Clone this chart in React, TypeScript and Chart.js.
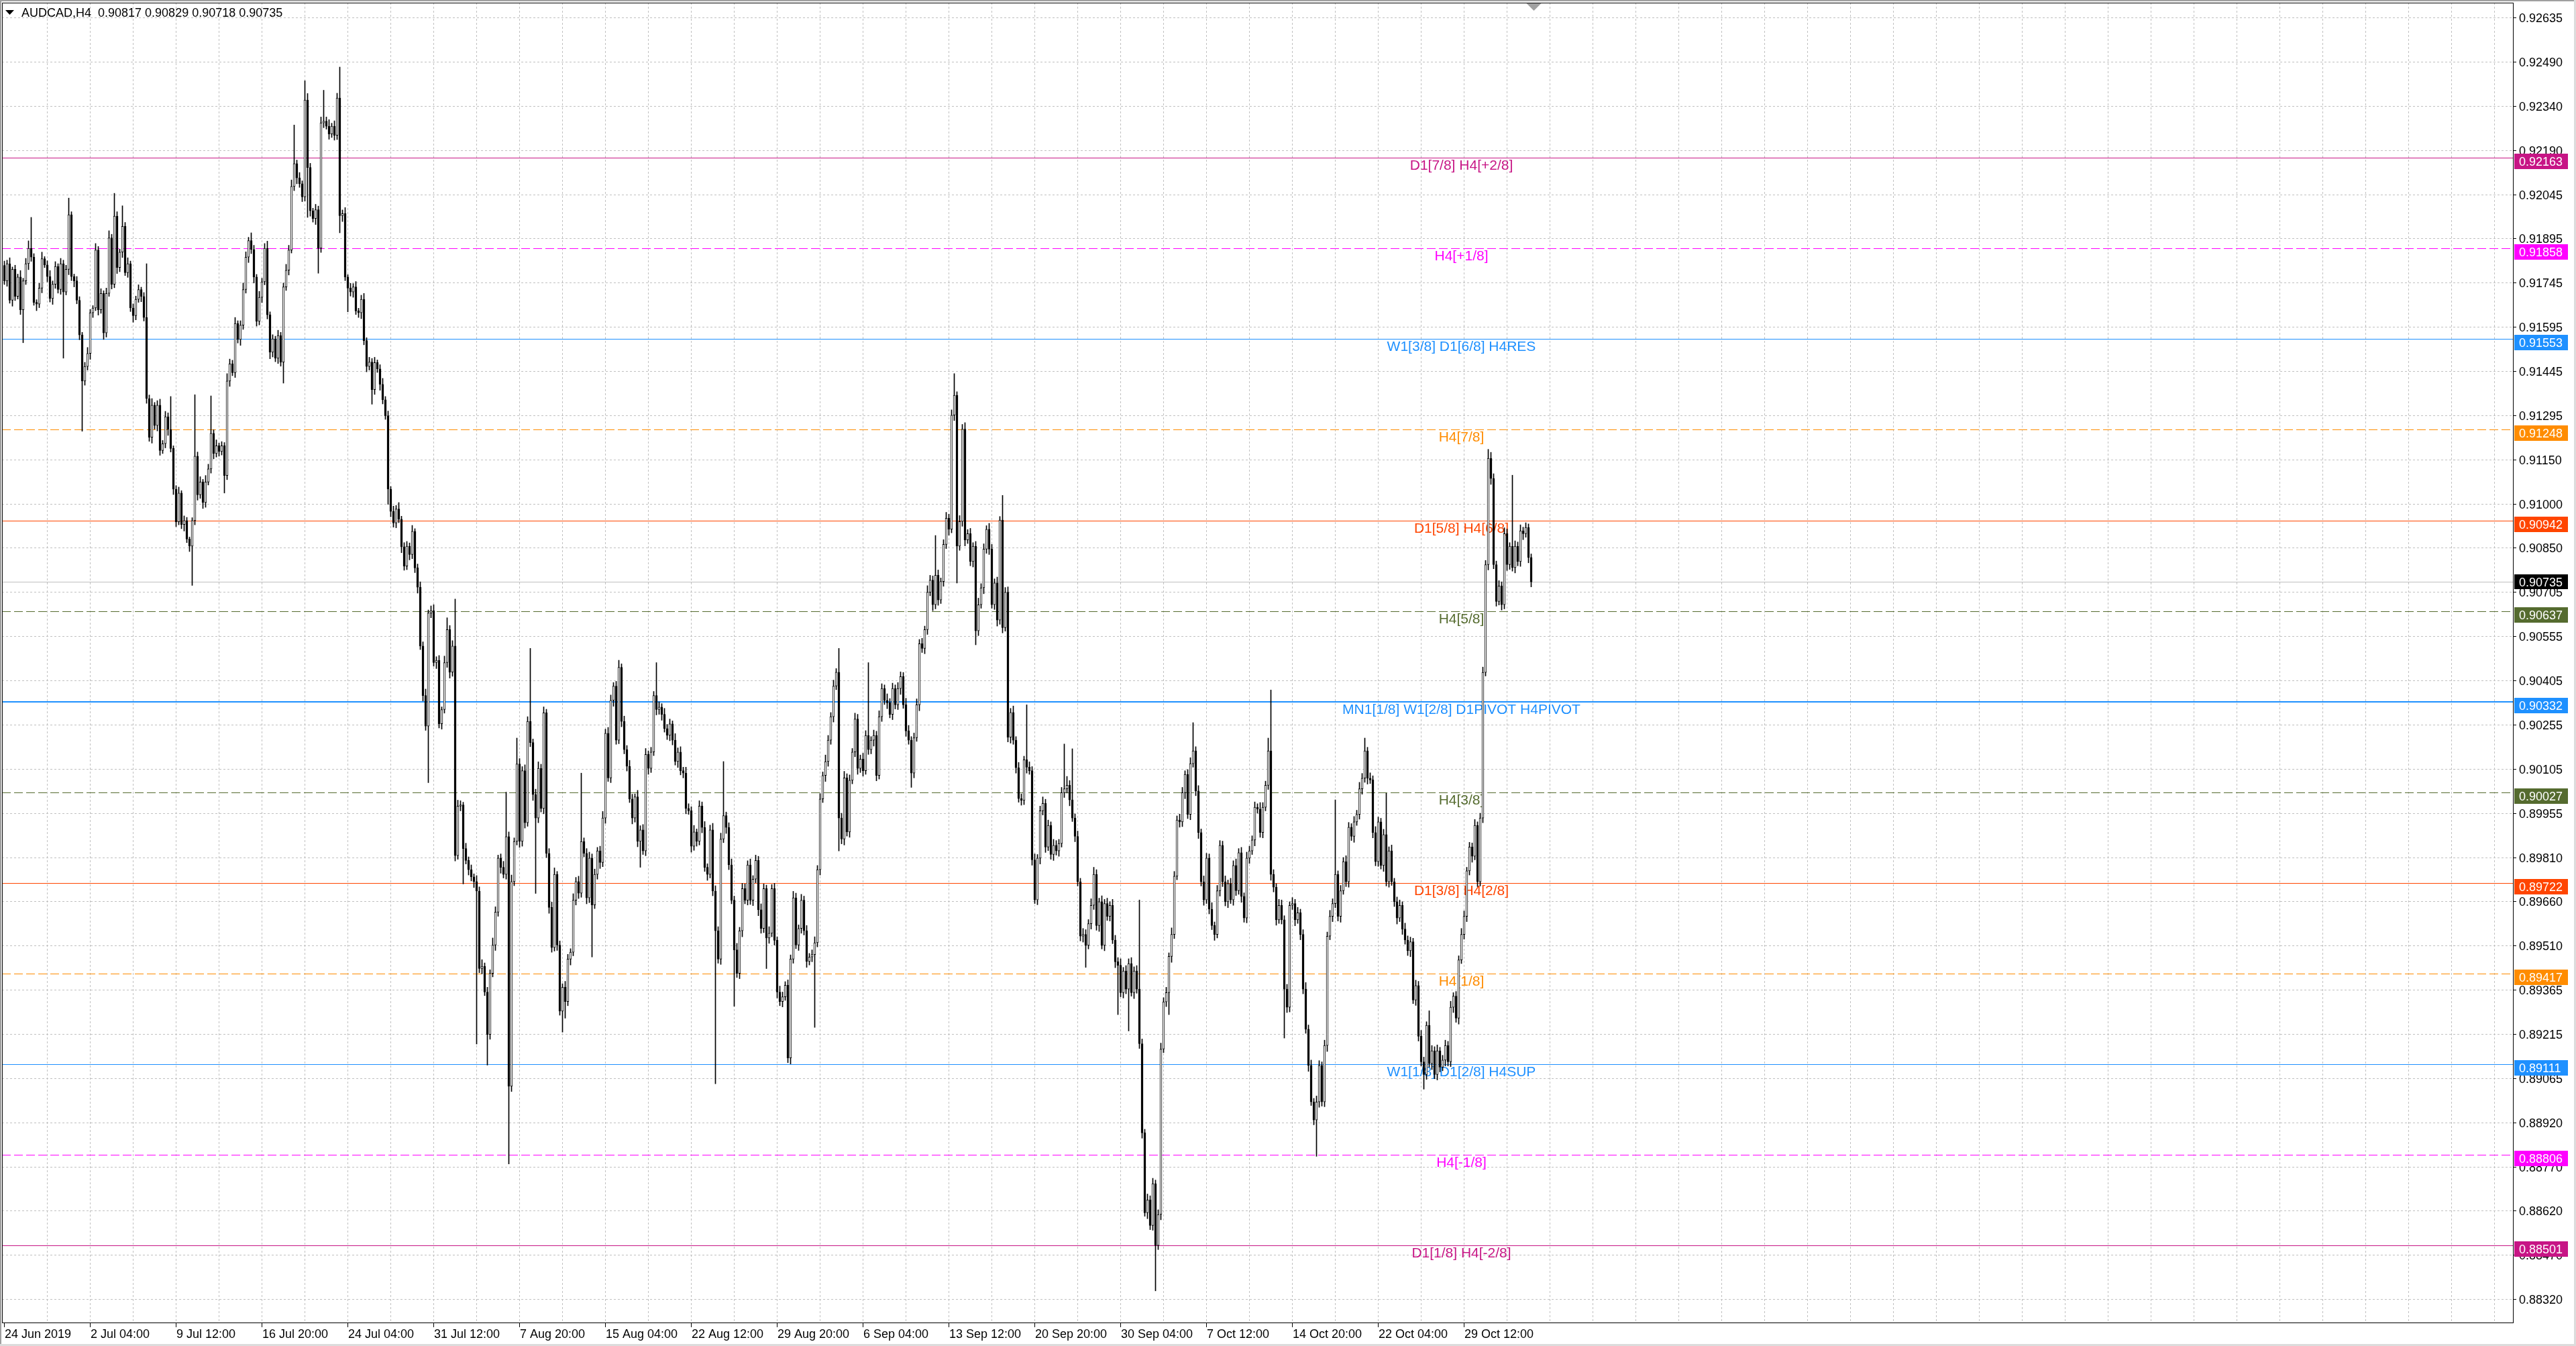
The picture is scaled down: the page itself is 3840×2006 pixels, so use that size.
import { useEffect, useRef } from "react"
import { Chart, registerables } from "chart.js"

Chart.register(...registerables)

// AUDCAD H4. Prices are kept in points (0.00001) above BASE
const SYMBOL = "AUDCAD,H4"
const BASE = 0.88
const POINT = 0.00001
const firstOpen = 3800

// close of every H4 bar, oldest first
const closes = [
  3748, 3806, 3683, 3787, 3696, 3761, 3651, 3748, 3806, 3858,
  3828, 3676, 3670, 3724, 3823, 3802, 3763, 3689, 3737, 3797,
  3719, 3806, 3711, 3787, 3971, 3763, 3748, 3683, 3566, 3411,
  3460, 3504, 3641, 3657, 3852, 3651, 3706, 3573, 3706, 3893,
  3737, 3966, 3793, 3845, 3932, 3776, 3806, 3657, 3631, 3686,
  3719, 3696, 3625, 3352, 3222, 3330, 3261, 3330, 3177, 3200,
  3291, 3248, 3184, 3047, 2937, 3034, 2928, 2941, 2879, 2855,
  2941, 3158, 3028, 3071, 3002, 3071, 3115, 3235, 3167, 3193,
  3174, 3193, 3093, 3411, 3469, 3439, 3605, 3551, 3599, 3719,
  3828, 3884, 3854, 3761, 3612, 3693, 3745, 3858, 3634, 3508,
  3553, 3488, 3564, 3475, 3728, 3784, 3852, 4066, 4143, 4095,
  4075, 4031, 4357, 4130, 3984, 3958, 3988, 3858, 4280, 4286,
  4269, 4243, 4269, 4238, 4364, 3968, 3975, 3761, 3724, 3711,
  3728, 3647, 3641, 3686, 3547, 3460, 3475, 3382, 3473, 3452,
  3400, 3348, 3294, 3047, 2972, 2933, 2980, 2946, 2853, 2788,
  2855, 2827, 2905, 2782, 2717, 2519, 2352, 2249, 2630, 2638,
  2463, 2471, 2257, 2305, 2463, 2574, 2431, 2519, 1813, 1980,
  1984, 1837, 1797, 1766, 1742, 1726, 1694, 1433, 1441, 1354,
  1211, 1417, 1512, 1623, 1805, 1774, 1750, 1877, 1037, 1726,
  1861, 2122, 1861, 2099, 1924, 2265, 2194, 2019, 1940, 2107,
  1972, 2294, 1821, 1639, 1504, 1750, 1512, 1290, 1370, 1322,
  1465, 1488, 1663, 1726, 1687, 1861, 1821, 1671, 1805, 1647,
  1750, 1829, 1790, 1940, 2225, 2075, 2336, 2384, 2202, 2447,
  2265, 2170, 2114, 2004, 1940, 2011, 1861, 1900, 1829, 2154,
  2107, 2162, 2352, 2305, 2313, 2289, 2241, 2218, 2257, 2202,
  2130, 2162, 2099, 2091, 1972, 1964, 1845, 1893, 1861, 1980,
  1908, 1774, 1750, 1900, 1694, 1560, 1465, 1869, 1948, 1908,
  1782, 1663, 1496, 1417, 1560, 1702, 1663, 1782, 1663, 1734,
  1797, 1631, 1568, 1702, 1536, 1552, 1702, 1528, 1354, 1322,
  1338, 1377, 1132, 1465, 1671, 1512, 1568, 1663, 1560, 1457,
  1472, 1480, 1520, 1766, 2004, 2083, 2130, 2202, 2281, 2384,
  2431, 1940, 1869, 2075, 1893, 2067, 2162, 2273, 2107, 2138,
  2099, 2218, 2170, 2202, 2218, 2083, 2281, 2376, 2336, 2328,
  2289, 2376, 2321, 2376, 2416, 2321, 2233, 2202, 2091, 2210,
  2321, 2527, 2511, 2574, 2700, 2741, 2658, 2757, 2674, 2736,
  2861, 2949, 2912, 3296, 3363, 2855, 2938, 3249, 2876, 2897,
  2803, 2855, 2570, 2658, 2715, 2845, 2912, 2845, 2658, 2731,
  2606, 2943, 2581, 2700, 2212, 2295, 2202, 2109, 2005, 1999,
  2136, 2111, 2099, 1799, 1664, 1805, 1964, 1989, 1842, 1915,
  1817, 1848, 1829, 1854, 2025, 2038, 2050, 2001, 1940, 1878,
  1725, 1542, 1548, 1511, 1584, 1646, 1750, 1578, 1658, 1511,
  1652, 1609, 1646, 1529, 1456, 1444, 1352, 1425, 1364, 1450,
  1352, 1425, 1364, 1180, 880, 611, 654, 568, 709, 501,
  605, 1162, 1321, 1352, 1474, 1548, 1744, 1933, 1927, 2025,
  2087, 1952, 2123, 2166, 2031, 1891, 1725, 1664, 1805, 1633,
  1578, 1548, 1695, 1848, 1725, 1658, 1719, 1664, 1780, 1695,
  1823, 1676, 1603, 1805, 1829, 1866, 1976, 1970, 1891, 1976,
  2050, 2166, 1750, 1707, 1597, 1646, 1597, 1364, 1303, 1646,
  1652, 1597, 1621, 1548, 1364, 1229, 1107, 984, 923, 984,
  1107, 984, 1174, 1542, 1609, 1652, 1750, 1609, 1695, 1793,
  1725, 1909, 1878, 1927, 1952, 2038, 2074, 2166, 2074, 2068,
  1891, 1793, 1927, 1780, 1884, 1725, 1829, 1725, 1658, 1603,
  1646, 1566, 1529, 1493, 1523, 1327, 1376, 1205, 1119, 1076,
  1242, 1113, 1156, 1076, 1156, 1101, 1125, 1174, 1119, 1303,
  1340, 1266, 1462, 1548, 1609, 1762, 1842, 1811, 1915, 1725,
  1940, 2430, 2793, 3151, 3083, 2793, 2669, 2721, 2658, 2897,
  2793, 2855, 2783, 2855, 2803, 2907, 2897, 2918, 2817, 2735,
]

// upper shadow of each bar above its body, in points
const wickUp = [
  15, 12, 20, 8, 14, 10, 22, 9, 18, 25,
  104, 12, 9, 16, 22, 7, 14, 20, 11, 16,
  9, 18, 12, 14, 56, 10, 8, 15, 12, 9,
  14, 20, 11, 8, 22, 12, 16, 9, 18, 24,
  12, 77, 15, 10, 69, 13, 20, 9, 14, 11,
  16, 8, 13, 181, 12, 22, 9, 15, 20, 11,
  18, 13, 111, 9, 12, 20, 8, 16, 11, 7,
  10, 207, 14, 18, 9, 22, 16, 126, 12, 20,
  9, 14, 11, 25, 16, 12, 20, 9, 15, 22,
  18, 11, 26, 14, 9, 20, 12, 16, 24, 10,
  14, 9, 18, 11, 13, 20, 16, 22, 130, 12,
  18, 10, 65, 22, 14, 9, 18, 12, 20, 104,
  14, 22, 10, 18, 16, 104, 12, 20, 8, 16,
  11, 18, 9, 14, 20, 10, 16, 12, 18, 9,
  14, 20, 11, 16, 9, 18, 12, 22, 10, 14,
  16, 11, 20, 9, 13, 18, 14, 22, 10, 16,
  20, 12, 16, 9, 22, 40, 14, 18, 158, 20,
  14, 9, 18, 12, 16, 10, 20, 14, 22, 11,
  16, 12, 24, 18, 10, 14, 20, 150, 16, 22,
  12, 87, 18, 14, 20, 16, 246, 12, 18, 22,
  14, 20, 12, 16, 18, 22, 10, 14, 12, 20,
  16, 12, 22, 14, 18, 230, 12, 16, 20, 14,
  18, 12, 16, 22, 14, 20, 18, 12, 16, 24,
  12, 18, 14, 20, 16, 10, 22, 14, 18, 20,
  12, 16, 14, 111, 18, 12, 20, 14, 16, 10,
  22, 14, 18, 12, 20, 16, 14, 22, 10, 18,
  14, 20, 12, 16, 22, 18, 14, 20, 182, 12,
  16, 20, 14, 22, 12, 18, 16, 14, 20, 12,
  18, 14, 20, 16, 12, 22, 14, 18, 12, 20,
  16, 12, 18, 14, 22, 16, 12, 20, 14, 18,
  12, 16, 20, 14, 18, 12, 22, 16, 14, 20,
  12, 80, 16, 22, 14, 18, 12, 20, 16, 14,
  20, 16, 245, 12, 18, 14, 20, 16, 12, 22,
  14, 18, 12, 20, 16, 14, 22, 18, 12, 16,
  20, 14, 18, 12, 22, 16, 14, 134, 18, 12,
  16, 20, 14, 18, 73, 12, 20, 16, 22, 14,
  18, 12, 16, 22, 14, 18, 12, 20, 16, 14,
  20, 12, 83, 16, 18, 14, 22, 12, 18, 16,
  12, 185, 18, 14, 20, 12, 16, 22, 14, 18,
  12, 20, 16, 14, 18, 151, 30, 16, 172, 14,
  18, 12, 20, 16, 14, 22, 24, 16, 12, 20,
  14, 18, 12, 20, 16, 14, 22, 12, 18, 16,
  20, 14, 18, 300, 16, 12, 20, 14, 18, 12,
  16, 20, 14, 18, 12, 22, 16, 14, 20, 18,
  12, 16, 20, 95, 14, 18, 12, 20, 16, 14,
  22, 12, 18, 16, 14, 20, 12, 18, 16, 22,
  14, 18, 12, 20, 16, 14, 18, 12, 22, 16,
  14, 43, 205, 16, 12, 20, 18, 14, 16, 12,
  20, 14, 18, 12, 16, 22, 14, 18, 12, 20,
  16, 12, 18, 14, 20, 16, 251, 12, 18, 14,
  20, 16, 12, 18, 14, 22, 16, 43, 12, 18,
  14, 20, 16, 12, 18, 139, 14, 20, 12, 16,
  18, 12, 20, 14, 16, 12, 18, 14, 20, 16,
  12, 49, 18, 14, 20, 12, 16, 18, 14, 20,
  12, 16, 14, 20, 18, 12, 16, 14, 20, 12,
  16, 18, 14, 30, 20, 16, 12, 18, 14, 20,
  16, 12, 239, 18, 14, 20, 12, 16, 12, 12,
]

// lower shadow of each bar below its body, in points
const wickDown = [
  12, 18, 10, 20, 14, 9, 16, 111, 12, 20,
  14, 10, 22, 12, 16, 9, 18, 12, 20, 14,
  12, 16, 223, 10, 18, 14, 20, 12, 16, 169,
  14, 12, 20, 16, 9, 18, 12, 22, 14, 10,
  16, 12, 20, 14, 18, 10, 16, 12, 22, 14,
  10, 18, 12, 16, 14, 20, 12, 18, 16, 10,
  14, 20, 12, 18, 16, 10, 14, 22, 12, 18,
  132, 14, 18, 12, 20, 16, 10, 14, 18, 12,
  16, 12, 59, 14, 18, 10, 16, 12, 20, 14,
  12, 18, 14, 20, 16, 12, 18, 10, 14, 22,
  16, 12, 18, 14, 71, 12, 16, 10, 14, 20,
  12, 16, 14, 168, 18, 12, 20, 84, 14, 16,
  10, 18, 12, 16, 14, 58, 20, 12, 80, 14,
  18, 12, 16, 20, 14, 18, 12, 49, 16, 12,
  20, 14, 12, 51, 18, 14, 16, 12, 20, 14,
  12, 18, 14, 16, 20, 12, 18, 14, 190, 16,
  12, 20, 14, 18, 12, 16, 20, 14, 18, 12,
  16, 119, 12, 18, 14, 20, 515, 14, 18, 12,
  103, 16, 12, 18, 14, 20, 12, 16, 262, 18,
  14, 12, 20, 16, 18, 12, 14, 20, 254, 16,
  12, 18, 14, 20, 16, 12, 18, 14, 71, 56,
  14, 20, 12, 16, 18, 14, 12, 20, 16, 175,
  12, 16, 20, 14, 18, 12, 16, 20, 14, 12,
  18, 14, 16, 12, 20, 14, 18, 87, 12, 16,
  20, 14, 12, 18, 16, 20, 12, 14, 18, 16,
  12, 20, 14, 16, 18, 12, 20, 14, 16, 12,
  18, 14, 20, 12, 16, 515, 14, 18, 12, 20,
  16, 12, 190, 14, 18, 20, 12, 16, 14, 18,
  12, 20, 16, 14, 103, 18, 12, 16, 20, 14,
  18, 12, 16, 20, 14, 12, 18, 16, 14, 20,
  12, 16, 245, 14, 18, 12, 20, 16, 14, 18,
  12, 111, 16, 20, 14, 18, 12, 16, 20, 14,
  18, 12, 16, 14, 20, 18, 12, 16, 14, 20,
  12, 18, 14, 16, 20, 12, 18, 14, 48, 16,
  12, 20, 14, 18, 16, 12, 20, 14, 18, 12,
  16, 14, 20, 12, 18, 124, 14, 16, 20, 12,
  14, 18, 47, 16, 12, 20, 14, 18, 12, 16,
  20, 14, 18, 12, 16, 20, 14, 18, 12, 16,
  14, 20, 12, 18, 12, 16, 20, 14, 18, 12,
  16, 20, 14, 18, 12, 16, 14, 20, 12, 18,
  14, 16, 20, 74, 12, 18, 14, 16, 20, 12,
  18, 14, 16, 12, 20, 166, 14, 18, 16, 141,
  12, 20, 14, 16, 18, 12, 20, 14, 16, 153,
  14, 18, 12, 16, 74, 20, 14, 12, 18, 16,
  20, 14, 18, 12, 16, 20, 14, 18, 12, 16,
  14, 20, 12, 18, 16, 14, 20, 12, 18, 16,
  12, 20, 14, 16, 18, 12, 20, 14, 16, 18,
  12, 14, 20, 16, 18, 12, 14, 165, 18, 16,
  14, 20, 12, 18, 16, 14, 20, 12, 16, 122,
  18, 14, 16, 20, 12, 18, 14, 16, 20, 12,
  16, 18, 14, 20, 12, 16, 18, 14, 20, 12,
  18, 14, 16, 12, 20, 14, 18, 12, 16, 20,
  12, 18, 14, 16, 20, 12, 18, 16, 14, 49,
  16, 12, 20, 14, 18, 16, 12, 20, 14, 16,
  18, 14, 20, 12, 16, 18, 14, 20, 12, 16,
  14, 16, 12, 18, 20, 14, 16, 12, 18, 14,
  20, 16, 12, 18, 14, 16, 20, 12, 18, 17,
]

// time axis: one label every 32 bars, starting at the first bar
const timeLabels = [
  "24 Jun 2019", "2 Jul 04:00", "9 Jul 12:00", "16 Jul 20:00", "24 Jul 04:00",
  "31 Jul 12:00", "7 Aug 20:00", "15 Aug 04:00", "22 Aug 12:00", "29 Aug 20:00",
  "6 Sep 04:00", "13 Sep 12:00", "20 Sep 20:00", "30 Sep 04:00", "7 Oct 12:00",
  "14 Oct 20:00", "22 Oct 04:00", "29 Oct 12:00",
]
const LABEL_EVERY = 32
const GRID_EVERY = 16

// price axis labels, top to bottom (evenly spaced grid)
const priceTicks = [
  "0.92635", "0.92490", "0.92340", "0.92190", "0.92045", "0.91895", "0.91745", "0.91595",
  "0.91445", "0.91295", "0.91150", "0.91000", "0.90850", "0.90705", "0.90555", "0.90405",
  "0.90255", "0.90105", "0.89955", "0.89810", "0.89660", "0.89510", "0.89365", "0.89215",
  "0.89065", "0.88920", "0.88770", "0.88620", "0.88470", "0.88320",
]
const Y_MIN = 0.882414
const Y_MAX = 0.926848

// Murrey math levels
const levelPrices = [
  0.92163, 0.91858, 0.91553, 0.91248, 0.90942, 0.90637, 0.90332,
  0.90027, 0.89722, 0.89417, 0.89111, 0.88806, 0.88501,
]
const levelLabels = [
  "D1[7/8] H4[+2/8]", "H4[+1/8]", "W1[3/8] D1[6/8] H4RES", "H4[7/8]",
  "D1[5/8] H4[6/8]", "H4[5/8]", "MN1[1/8] W1[2/8] D1PIVOT H4PIVOT", "H4[3/8]",
  "D1[3/8] H4[2/8]", "H4[1/8]", "W1[1/8] D1[2/8] H4SUP", "H4[-1/8]", "D1[1/8] H4[-2/8]",
]
const LABEL_BAR = 543

const SOLID: number[] = []
const DASH = [13, 5]
const levelStyles = [
  { color: "#c71585", dash: SOLID, width: 1 },
  { color: "#ff00ff", dash: DASH, width: 1 },
  { color: "#1e90ff", dash: SOLID, width: 1 },
  { color: "#ff8c00", dash: DASH, width: 1 },
  { color: "#ff4500", dash: SOLID, width: 1 },
  { color: "#556b2f", dash: DASH, width: 1 },
  { color: "#1e90ff", dash: SOLID, width: 2 },
  { color: "#556b2f", dash: DASH, width: 1 },
  { color: "#ff4500", dash: SOLID, width: 1 },
  { color: "#ff8c00", dash: DASH, width: 1 },
  { color: "#1e90ff", dash: SOLID, width: 1 },
  { color: "#ff00ff", dash: DASH, width: 1 },
  { color: "#c71585", dash: SOLID, width: 1 },
]

const FONT = "'Liberation Sans', Arial, sans-serif"

const candles = closes.map((c, i) => {
  const o = i === 0 ? firstOpen : closes[i - 1]
  const h = Math.max(o, c) + wickUp[i]
  const l = Math.min(o, c) - wickDown[i]
  return { o: BASE + o * POINT, h: BASE + h * POINT, l: BASE + l * POINT, c: BASE + c * POINT }
})
const last = candles[candles.length - 1]

const first = Number(priceTicks[0])
const step = (first - Number(priceTicks[priceTicks.length - 1])) / (priceTicks.length - 1)
const tickValues = priceTicks.map((_, k) => first - k * step)

const fmt = (v: number) => v.toFixed(5)

const mt4Plugin = {
  id: "mt4",
  beforeDatasetsDraw(chart: any) {
    const { ctx, chartArea: a } = chart
    const xs = chart.scales.x
    const ys = chart.scales.y
    ctx.save()

    // dashed grid
    ctx.lineWidth = 1
    ctx.strokeStyle = "#c0c0c0"
    ctx.setLineDash([3, 3])
    ctx.beginPath()
    tickValues.forEach((v) => {
      const py = Math.round(ys.getPixelForValue(v)) + 0.5
      ctx.moveTo(a.left, py)
      ctx.lineTo(a.right, py)
    })
    for (let i = GRID_EVERY; ; i += GRID_EVERY) {
      const px = Math.floor(xs.getPixelForValue(i)) + 0.5
      if (px >= a.right) break
      ctx.moveTo(px, a.top)
      ctx.lineTo(px, a.bottom)
    }
    ctx.stroke()

    // bid line
    ctx.setLineDash([])
    ctx.strokeStyle = "#c0c0c0"
    const by = Math.round(ys.getPixelForValue(last.c)) + 0.5
    ctx.beginPath()
    ctx.moveTo(a.left, by)
    ctx.lineTo(a.right, by)
    ctx.stroke()

    // level lines and their captions
    ctx.font = `21px ${FONT}`
    ctx.textAlign = "center"
    ctx.textBaseline = "alphabetic"
    const lx = xs.getPixelForValue(LABEL_BAR)
    levelPrices.forEach((p, k) => {
      const st = levelStyles[k]
      const raw = Math.round(ys.getPixelForValue(p))
      const py = st.width === 2 ? raw : raw + 0.5
      ctx.strokeStyle = st.color
      ctx.lineWidth = st.width
      ctx.setLineDash(st.dash)
      ctx.beginPath()
      ctx.moveTo(a.left, py)
      ctx.lineTo(a.right, py)
      ctx.stroke()
      ctx.fillStyle = st.color
      ctx.fillText(levelLabels[k], lx, raw + 18)
    })
    ctx.restore()
  },
  afterDraw(chart: any) {
    const { ctx, chartArea: a } = chart
    const xs = chart.scales.x
    const ys = chart.scales.y
    ctx.save()
    ctx.setLineDash([])

    // window edges
    ctx.fillStyle = "#a0a0a0"
    ctx.fillRect(0, 0, chart.width, 2)
    ctx.fillRect(0, 0, 2, chart.height)
    ctx.fillStyle = "#dcdcdc"
    ctx.fillRect(chart.width - 3, 0, 3, chart.height)
    ctx.fillRect(0, chart.height - 3, chart.width, 3)

    // frame
    ctx.strokeStyle = "#000"
    ctx.lineWidth = 1
    ctx.strokeRect(a.left + 0.5, a.top + 0.5, a.right - a.left - 1, a.bottom - a.top)

    ctx.font = `18px ${FONT}`
    ctx.textAlign = "left"
    ctx.textBaseline = "alphabetic"
    ctx.fillStyle = "#000"

    // price axis
    tickValues.forEach((v, k) => {
      const py = Math.round(ys.getPixelForValue(v))
      ctx.fillRect(a.right, py, 4, 1)
      ctx.fillText(priceTicks[k], a.right + 8, py + 7)
    })

    // time axis
    timeLabels.forEach((t, k) => {
      const px = Math.floor(xs.getPixelForValue(k * LABEL_EVERY))
      ctx.fillRect(px, a.bottom + 1, 1, 6)
      ctx.fillText(t, Math.max(px + 1, a.left + 2), a.bottom + 23)
    })

    // price tags of the levels
    levelPrices.forEach((p, k) => {
      const py = Math.round(ys.getPixelForValue(p))
      ctx.fillStyle = levelStyles[k].color
      ctx.fillRect(a.right + 1, py - 6, 80, 23)
      ctx.fillStyle = "#fff"
      ctx.fillText(fmt(p), a.right + 8, py + 12)
    })

    // bid tag
    const by = Math.round(ys.getPixelForValue(last.c))
    ctx.fillStyle = "#000"
    ctx.fillRect(a.right + 1, by - 11, 80, 22)
    ctx.fillStyle = "#fff"
    ctx.fillText(fmt(last.c), a.right + 8, by + 7)

    // title
    ctx.fillStyle = "#000"
    ctx.beginPath()
    ctx.moveTo(8, 15)
    ctx.lineTo(21, 15)
    ctx.lineTo(14.5, 22)
    ctx.closePath()
    ctx.fill()
    ctx.fillText(`${SYMBOL}  ${fmt(last.o)} ${fmt(last.h)} ${fmt(last.l)} ${fmt(last.c)}`, 32, 25)

    // chart shift marker
    const sx = xs.getPixelForValue(closes.length)
    ctx.fillStyle = "#a0a0a0"
    ctx.beginPath()
    ctx.moveTo(sx - 11, a.top + 1)
    ctx.lineTo(sx + 11, a.top + 1)
    ctx.lineTo(sx, a.top + 12)
    ctx.closePath()
    ctx.fill()
    ctx.restore()
  },
}

export default function App() {
  const canvasRef = useRef<HTMLCanvasElement>(null)

  useEffect(() => {
    document.body.style.margin = "0"
    document.body.style.overflow = "hidden"
    if (!canvasRef.current) return

    const chart = new Chart(canvasRef.current, {
      type: "bar",
      data: {
        datasets: [
          {
            // bodies
            data: candles.map((b, i) => ({ x: i, y: [b.o, b.c] })) as any,
            backgroundColor: candles.map((b) => (b.c >= b.o ? "#ffffff" : "#000000")),
            borderColor: "#000000",
            borderWidth: 1,
            borderSkipped: false,
            barThickness: 3,
            maxBarThickness: 3,
            minBarLength: 1,
            grouped: false,
            order: 1,
          },
          {
            // shadows
            data: candles.map((b, i) => ({ x: i, y: [b.l, b.h] })) as any,
            backgroundColor: "#000000",
            borderWidth: 0,
            barThickness: 1,
            maxBarThickness: 1,
            grouped: false,
            order: 2,
          },
        ],
      },
      options: {
        animation: false,
        responsive: true,
        maintainAspectRatio: false,
        devicePixelRatio: 1,
        events: [],
        layout: { padding: { left: 3, top: 4, right: 93, bottom: 35 } },
        plugins: { legend: { display: false }, tooltip: { enabled: false } },
        scales: {
          x: { type: "linear", display: false, offset: false, min: -0.875, max: 935.125 },
          y: { type: "linear", display: false, min: Y_MIN, max: Y_MAX },
        },
      },
      plugins: [mt4Plugin],
    })

    return () => {
      chart.destroy()
    }
  }, [])

  return (
    <div style={{ position: "relative", width: 3840, height: 2006, background: "#ffffff" }}>
      <canvas ref={canvasRef} />
    </div>
  )
}
